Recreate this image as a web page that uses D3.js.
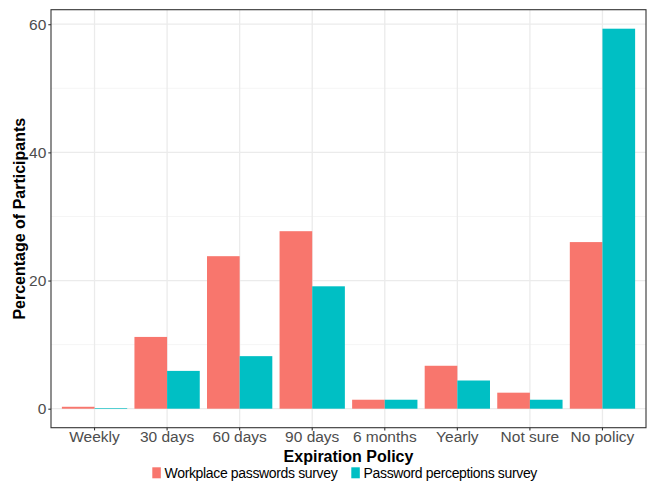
<!DOCTYPE html>
<html>
<head>
<meta charset="utf-8">
<script src="https://cdn.jsdelivr.net/npm/d3@7"></script>
<style>
  body { margin: 0; background: #fff; }
  svg text { font-family: "Liberation Sans", Arial, Helvetica, sans-serif; }
</style>
</head>
<body>
<div id="chart"></div>
<script>
// categories and series (percent of participants)
const categories = ["Weekly", "30 days", "60 days", "90 days", "6 months", "Yearly", "Not sure", "No policy"];
const seriesNames = ["Workplace passwords survey", "Password perceptions survey"];
const workplace = [0.3, 11.2, 23.8, 27.7, 1.4, 6.7, 2.5, 26.0];
const perceptions = [0.1, 5.9, 8.2, 19.1, 1.4, 4.4, 1.4, 59.3];
const yTicks = [0, 20, 40, 60];
const yMinor = [10, 30, 50];
const colors = ["#F8766D", "#00BFC4"];

const W = 647, H = 481;
const panel = { left: 51, right: 646, top: 9.7, bottom: 427.7 };

const svg = d3.select("#chart")
    .append("svg")
    .attr("width", W)
    .attr("height", H);

// scales
const allVals = workplace.concat(perceptions);
const yMax = d3.max(allVals);
const pad = (yMax - 0) * 0.05;
const y = d3.scaleLinear()
    .domain([0 - pad, yMax + pad])
    .range([panel.bottom, panel.top]);

const x = d3.scaleBand()
    .domain(categories)
    .range([panel.left, panel.right])
    .paddingInner(0.1)
    .paddingOuter(0.15);

const xInner = d3.scaleBand()
    .domain(seriesNames)
    .range([0, x.bandwidth()]);

// grid
const grid = svg.append("g");
grid.selectAll(".minor")
    .data(yMinor)
    .enter().append("line")
    .attr("x1", panel.left).attr("x2", panel.right)
    .attr("y1", d => y(d)).attr("y2", d => y(d))
    .attr("stroke", "#F2F2F2").attr("stroke-width", 0.8);
grid.selectAll(".major")
    .data(yTicks)
    .enter().append("line")
    .attr("x1", panel.left).attr("x2", panel.right)
    .attr("y1", d => y(d)).attr("y2", d => y(d))
    .attr("stroke", "#EBEBEB").attr("stroke-width", 1.3);
grid.selectAll(".vmajor")
    .data(categories)
    .enter().append("line")
    .attr("x1", d => x(d) + x.bandwidth() / 2).attr("x2", d => x(d) + x.bandwidth() / 2)
    .attr("y1", panel.top).attr("y2", panel.bottom)
    .attr("stroke", "#EBEBEB").attr("stroke-width", 1.3);

// bars
const series = [workplace, perceptions];
series.forEach((vals, si) => {
    svg.append("g")
        .selectAll("rect")
        .data(vals)
        .enter().append("rect")
        .attr("x", (d, i) => x(categories[i]) + xInner(seriesNames[si]))
        .attr("width", xInner.bandwidth())
        .attr("y", d => y(d))
        .attr("height", d => y(0) - y(d))
        .attr("fill", colors[si]);
});

// panel border
svg.append("rect")
    .attr("x", panel.left).attr("y", panel.top)
    .attr("width", panel.right - panel.left)
    .attr("height", panel.bottom - panel.top)
    .attr("fill", "none")
    .attr("stroke", "#333333")
    .attr("stroke-width", 1.1);

// axes
const yAxis = svg.append("g")
    .attr("transform", `translate(${panel.left},0)`)
    .call(d3.axisLeft(y).tickValues(yTicks).tickSize(2.7).tickPadding(2));
const xAxis = svg.append("g")
    .attr("transform", `translate(0,${panel.bottom})`)
    .call(d3.axisBottom(x).tickSize(2.7).tickPadding(0.3));
[yAxis, xAxis].forEach(a => {
    a.select(".domain").remove();
    a.selectAll(".tick line").attr("stroke", "#333333").attr("stroke-width", 1.1);
    a.selectAll(".tick text")
        .attr("fill", "#4D4D4D")
        .style("font-size", "15.5px")
        .style("font-family", "'Liberation Sans', Arial, sans-serif");
});

// axis titles
svg.append("text")
    .attr("x", (panel.left + panel.right) / 2)
    .attr("y", 461.7)
    .attr("text-anchor", "middle")
    .style("font-size", "16px")
    .style("font-weight", "bold")
    .text("Expiration Policy");

svg.append("text")
    .attr("transform", `translate(25,${(panel.top + panel.bottom) / 2}) rotate(-90)`)
    .attr("text-anchor", "middle")
    .style("font-size", "16px")
    .style("font-weight", "bold")
    .text("Percentage of Participants");

// legend
const legendX = [152.3, 351.3];
seriesNames.forEach((name, i) => {
    svg.append("rect")
        .attr("x", legendX[i]).attr("y", 467.3)
        .attr("width", 8.5).attr("height", 11)
        .attr("fill", colors[i]);
    svg.append("text")
        .attr("x", legendX[i] + 12.3)
        .attr("y", 478.3)
        .style("font-size", "14px")
        .style("letter-spacing", "-0.35px")
        .attr("fill", "#000")
        .text(name);
});
</script>
</body>
</html>
